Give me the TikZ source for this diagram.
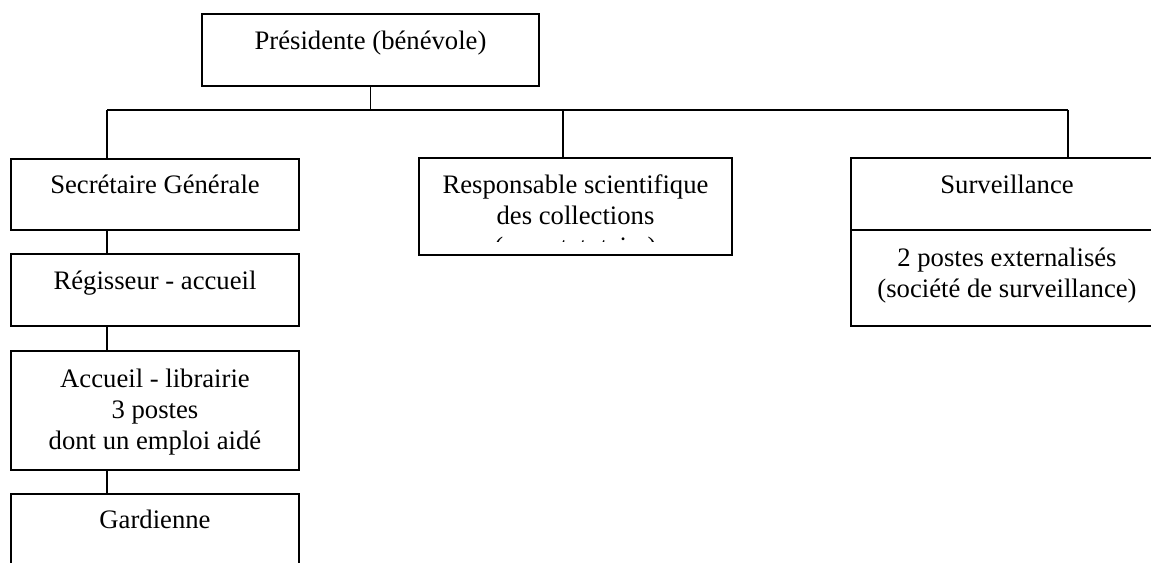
\documentclass[tikz,border=0pt]{standalone}
\usepackage{fontspec}
\setmainfont{Liberation Serif}
\usetikzlibrary{positioning}

\tikzset{every picture/.style={line width=1.4pt}}
\tikzset{
  orgbox/.style 2 args={draw, rectangle, inner sep=0pt, outer sep=0pt, anchor=north west,
    minimum width=#1*0.75pt, minimum height=#2*0.75pt},
  orgtext/.style={inner sep=0pt, align=center, anchor=base,
    font=\fontsize{20}{23}\selectfont},
}

\begin{document}
\begin{tikzpicture}[x=0.75pt,y=0.75pt,yscale=-1,xscale=1]
%set diagram area: 1151 x 563
\clip (0,0) rectangle (1151,563);

%Shape: Rect [id:pres]
\node[orgbox={337}{72}] (pres) at (202,14) {};
%Shape: Rect [id:sec]
\node[orgbox={288}{71}] (sec) at (11,159) {};
%Shape: Rect [id:reg]
\node[orgbox={288}{72}] (reg) at (11,254) {};
%Shape: Rect [id:acc]
\node[orgbox={288}{119}] (acc) at (11,351) {};
%Shape: Rect [id:gard]
\node[orgbox={288}{100}] (gard) at (11,494) {};
%Shape: Rect [id:resp]
\node[orgbox={313}{97}] (resp) at (419,158) {};
%Shape: Rect [id:survtop]
\node[orgbox={312}{72}] (survtop) at (851,158) {};
%Shape: Rect [id:survsub]
\node[orgbox={312}{96}] (survsub) at (851,230) {};

%Connectors
\coordinate (busL) at (107,110);
\coordinate (busM) at (563,110);
\coordinate (busR) at (1068,110);
\draw (pres.south) -- (pres.south |- busL);
\draw (busL) -- (busR);
\draw (busL) -- (busL |- sec.north);
\draw (busM) -- (busM |- resp.north);
\draw (busR) -- (busR |- survtop.north);
\draw (sec.south -| busL) -- (reg.north -| busL);
\draw (reg.south -| busL) -- (acc.north -| busL);
\draw (acc.south -| busL) -- (gard.north -| busL);

% Text Node
\node[orgtext] (prestext) at (370.5,50) {Présidente (bénévole)};
% Text Node
\node[orgtext] (sectext) at (155,193) {Secrétaire Générale};
% Text Node
\node[orgtext] (regtext) at (155,289) {Régisseur - accueil};
% Text Node (base = last line)
\node[orgtext] (acctext) at (155,449) {Accueil - librairie\\3 postes\\dont un emploi aidé};
% Text Node
\node[orgtext] (gardtext) at (155,528) {Gardienne};
% Text Node (base = last line)
\node[orgtext] (resptext) at (575.5,224) {Responsable scientifique\\des collections};
% Text Node (cut off by the box)
\begin{scope}
\clip (419,158) rectangle (732,241);
\node[orgtext] (respnote) at (575.5,255) {(non statutaire)};
\end{scope}
% Text Node
\node[orgtext] (survtext) at (1007,193) {Surveillance};
% Text Node (base = last line)
\node[orgtext] (subtext) at (1007,297) {2 postes externalisés\\(société de surveillance)};

\end{tikzpicture}
\end{document}
